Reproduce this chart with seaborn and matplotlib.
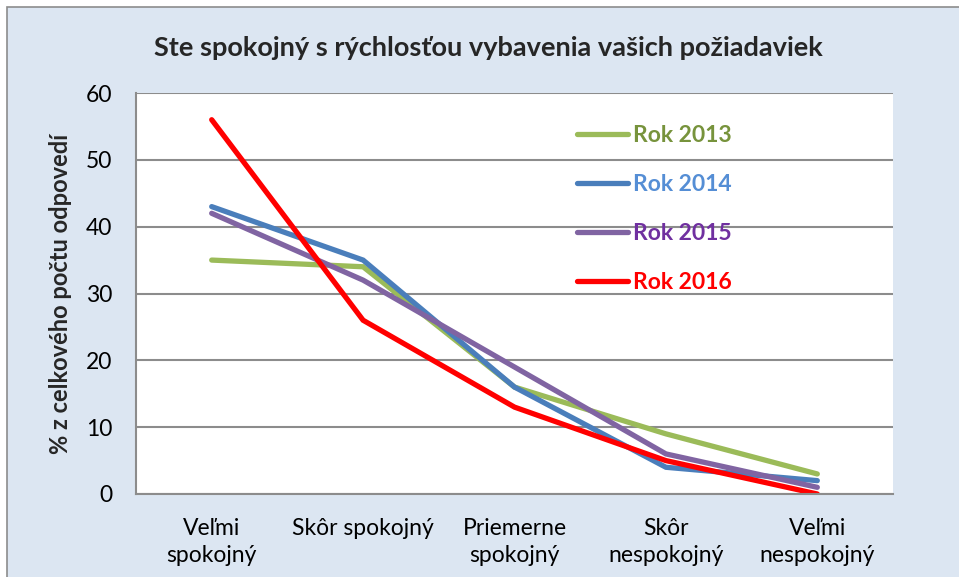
import matplotlib
matplotlib.use("Agg")
import matplotlib.pyplot as plt
import seaborn as sns
import pandas as pd
from matplotlib.patches import Rectangle

categories = ["Veľmi\nspokojný", "Skôr spokojný", "Priemerne\nspokojný", "Skôr\nnespokojný", "Veľmi\nnespokojný"]
years = ["Rok 2013", "Rok 2014", "Rok 2015", "Rok 2016"]
rok_2013 = [35, 34, 16, 9, 3]
rok_2014 = [43, 35, 16, 4, 2]
rok_2015 = [42, 32, 19, 6, 1]
rok_2016 = [56, 26, 13, 5, 0]
yticks = [0, 10, 20, 30, 40, 50, 60]

line_colors = ["#9BBB59", "#4A7EBB", "#8064A2", "#FF0000"]
text_colors = ["#77933C", "#558ED5", "#7030A0", "#FF0000"]

rows = []
for y, vals in zip(years, [rok_2013, rok_2014, rok_2015, rok_2016]):
    for i, v in enumerate(vals):
        rows.append({"pos": i, "value": v, "year": y})
df = pd.DataFrame(rows)

sns.set_style("white")
plt.rcParams["font.family"] = ["Lato", "DejaVu Sans"]

fig = plt.figure(figsize=(9.59, 5.77), dpi=100, facecolor="white")
W, H = 959, 577
bg = Rectangle((7 / W, -0.01), 1.1, 1 - 7 / H + 0.01, transform=fig.transFigure,
               facecolor="#DCE6F2", edgecolor="#8C8C8C", linewidth=1.2, zorder=-10)
fig.patches.append(bg)

ax = fig.add_axes([136 / W, 1 - 494 / H, (893 - 136) / W, (494 - 93) / H])
ax.set_zorder(5)
ax.set_facecolor("white")

sns.lineplot(data=df, x="pos", y="value", hue="year", palette=line_colors, linewidth=3.8,
             ax=ax, legend=True, solid_capstyle="round", solid_joinstyle="miter")

ax.set_xlim(-0.5, 4.5)
ax.set_ylim(0, 60)
ax.set_yticks(yticks)
ax.set_yticklabels([str(t) for t in yticks], fontsize=16.5)
ax.set_xticks(range(len(categories)))
ax.set_xticklabels(categories, fontsize=16.5, linespacing=1.35)
ax.tick_params(axis="both", length=0, colors="black")
ax.tick_params(axis="x", pad=17)
ax.tick_params(axis="y", pad=17)
ax.grid(axis="y", color="#8C8C8C", linewidth=1.5)
ax.set_axisbelow(True)
for s in ["top", "right"]:
    ax.spines[s].set_visible(False)
for s in ["left", "bottom"]:
    ax.spines[s].set_color("#8C8C8C")
    ax.spines[s].set_linewidth(1.5)
ax.set_xlabel("")
ax.set_ylabel("% z celkového počtu odpovedí", fontsize=17, fontweight="bold", labelpad=10)

leg = ax.legend(loc="upper left", bbox_to_anchor=(0.582, 0.92), frameon=False,
                borderpad=0, borderaxespad=0,
                handlelength=2.25, handletextpad=0.2, labelspacing=1.22,
                prop={"weight": "bold", "size": 16.5})
for t, c in zip(leg.get_texts(), text_colors):
    t.set_color(c)

fig.text(488 / W, 1 - 48 / H, "Ste spokojný s rýchlosťou vybavenia vašich požiadaviek",
         ha="center", va="center", fontsize=19.5, fontweight="bold")

fig.savefig("out.png", dpi=100, facecolor="white")
